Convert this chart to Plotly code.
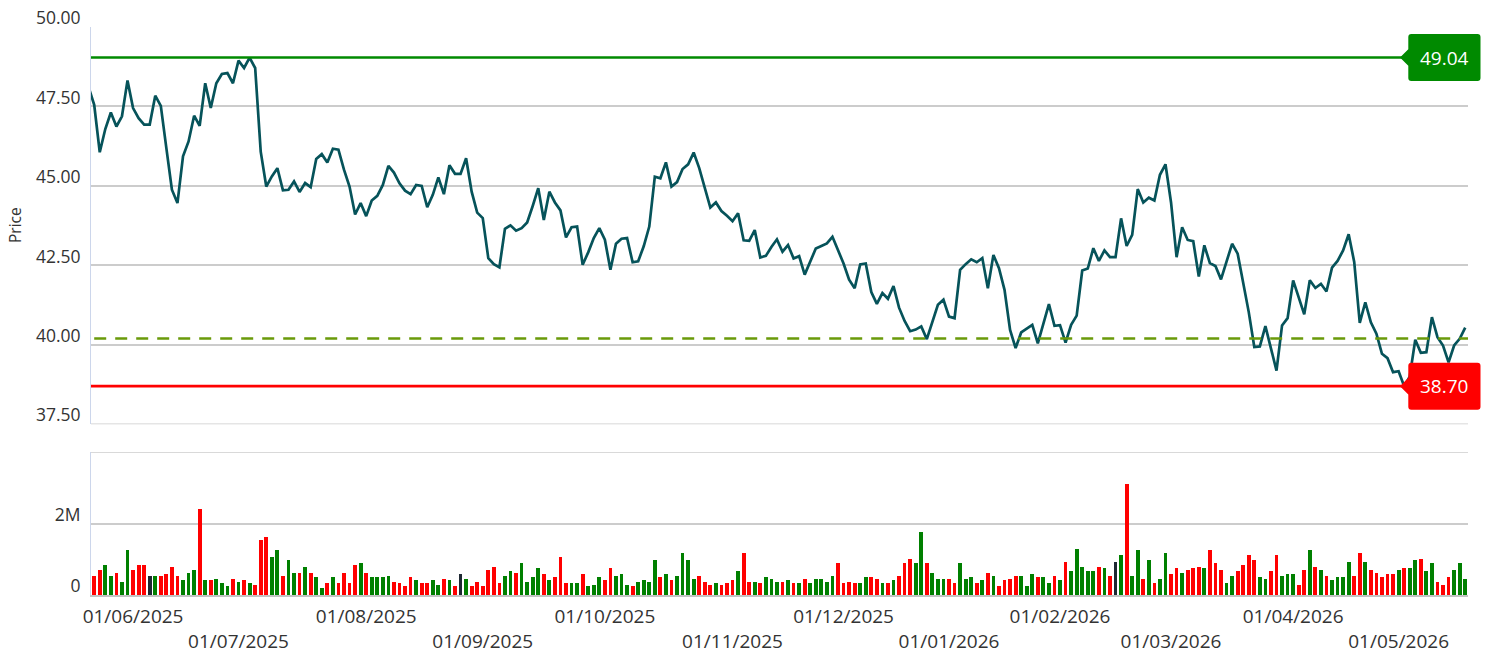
import plotly.graph_objects as go

# ---------------- data ----------------
# daily closes; index 0 is the session just before the visible window
close = [
    48.10, 47.55, 46.06, 46.79, 47.31, 46.87, 47.19, 48.32, 47.45, 47.13,
    46.93, 46.93, 47.84, 47.52, 46.19, 44.88, 44.46, 45.93, 46.40, 47.21,
    46.89, 48.23, 47.45, 48.23, 48.52, 48.55, 48.23, 48.94, 48.71, 49.04,
    48.71, 46.08, 44.98, 45.30, 45.56, 44.86, 44.88, 45.14, 44.81, 45.09,
    44.96, 45.85, 46.00, 45.74, 46.17, 46.14, 45.51, 44.98, 44.10, 44.46,
    44.05, 44.54, 44.69, 45.03, 45.63, 45.42, 45.08, 44.85, 44.74, 45.03,
    45.00, 44.33, 44.72, 45.27, 44.74, 45.65, 45.38, 45.38, 45.87, 44.82,
    44.16, 43.99, 42.73, 42.54, 42.44, 43.65, 43.76, 43.59, 43.67, 43.85,
    44.37, 44.93, 43.93, 44.82, 44.48, 44.23, 43.38, 43.70, 43.72, 42.52,
    42.91, 43.36, 43.67, 43.31, 42.36, 43.18, 43.34, 43.36, 42.60, 42.63,
    43.10, 43.72, 45.29, 45.24, 45.74, 44.98, 45.12, 45.53, 45.68, 46.05,
    45.56, 44.98, 44.32, 44.48, 44.21, 44.06, 43.89, 44.14, 43.29, 43.27,
    43.61, 42.75, 42.80, 43.08, 43.32, 42.93, 43.14, 42.72, 42.79, 42.21,
    42.61, 43.03, 43.11, 43.19, 43.40, 42.96, 42.56, 42.05, 41.78, 42.53,
    42.56, 41.66, 41.29, 41.63, 41.45, 41.85, 41.17, 40.75, 40.43, 40.48,
    40.58, 40.18, 40.73, 41.26, 41.42, 40.89, 40.84, 42.36, 42.54, 42.69,
    42.60, 42.73, 41.78, 42.83, 42.41, 41.73, 40.47, 39.90, 40.39, 40.50,
    40.63, 40.05, 40.68, 41.28, 40.60, 40.62, 40.07, 40.63, 40.92, 42.34,
    42.40, 43.04, 42.64, 42.97, 42.76, 42.76, 43.98, 43.11, 43.46, 44.90,
    44.48, 44.63, 44.54, 45.35, 45.68, 44.48, 42.76, 43.70, 43.30, 43.26,
    42.15, 43.13, 42.57, 42.48, 42.06, 42.61, 43.18, 42.87, 41.97, 41.03,
    39.93, 39.95, 40.59, 39.89, 39.19, 40.61, 40.84, 42.03, 41.52, 40.96,
    42.03, 41.79, 41.92, 41.68, 42.43, 42.64, 42.97, 43.48, 42.61, 40.69,
    41.34, 40.71, 40.35, 39.72, 39.58, 39.14, 39.17, 38.70, 39.00, 40.16,
    39.75, 39.77, 40.87, 40.24, 39.98, 39.45, 39.98, 40.19, 40.54,
]

# daily volume in millions of shares (sessions 1..248)
volume_m = [
    0.51, 0.70, 0.84, 0.51, 0.62, 0.36, 1.24, 0.70, 0.84, 0.84,
    0.51, 0.53, 0.51, 0.59, 0.79, 0.53, 0.42, 0.62, 0.70, 2.41,
    0.42, 0.42, 0.45, 0.33, 0.25, 0.45, 0.36, 0.42, 0.33, 0.27,
    1.52, 1.61, 1.07, 1.24, 0.53, 0.98, 0.62, 0.62, 0.79, 0.62,
    0.50, 0.19, 0.33, 0.50, 0.33, 0.62, 0.33, 0.84, 0.90, 0.62,
    0.50, 0.50, 0.50, 0.53, 0.36, 0.33, 0.25, 0.50, 0.42, 0.33,
    0.33, 0.42, 0.27, 0.45, 0.42, 0.25, 0.59, 0.45, 0.25, 0.36,
    0.25, 0.70, 0.79, 0.33, 0.53, 0.67, 0.62, 0.90, 0.36, 0.50,
    0.76, 0.59, 0.42, 0.50, 1.07, 0.33, 0.33, 0.33, 0.59, 0.25,
    0.27, 0.50, 0.42, 0.76, 0.53, 0.59, 0.27, 0.25, 0.36, 0.42,
    0.36, 0.98, 0.50, 0.59, 0.42, 0.53, 1.16, 0.98, 0.45, 0.53,
    0.36, 0.27, 0.33, 0.27, 0.33, 0.42, 0.67, 1.16, 0.36, 0.36,
    0.33, 0.50, 0.45, 0.36, 0.36, 0.42, 0.33, 0.33, 0.45, 0.33,
    0.45, 0.45, 0.36, 0.53, 0.90, 0.33, 0.36, 0.33, 0.33, 0.50,
    0.50, 0.45, 0.33, 0.33, 0.42, 0.53, 0.90, 1.01, 0.90, 1.75,
    0.90, 0.62, 0.45, 0.45, 0.45, 0.33, 0.90, 0.45, 0.50, 0.33,
    0.42, 0.62, 0.53, 0.25, 0.42, 0.45, 0.53, 0.53, 0.25, 0.59,
    0.50, 0.50, 0.33, 0.53, 0.42, 0.93, 0.67, 1.27, 0.79, 0.67,
    0.67, 0.79, 0.76, 0.53, 0.93, 1.10, 3.09, 0.53, 1.24, 0.45,
    0.98, 0.33, 0.45, 1.18, 0.59, 0.76, 0.62, 0.70, 0.76, 0.79,
    0.76, 1.24, 0.90, 0.70, 0.33, 0.53, 0.67, 0.84, 1.10, 0.98,
    0.50, 0.45, 0.67, 1.10, 0.53, 0.59, 0.59, 0.27, 0.70, 1.24,
    0.79, 0.70, 0.53, 0.42, 0.50, 0.50, 0.93, 0.53, 1.16, 0.93,
    0.70, 0.62, 0.50, 0.59, 0.59, 0.70, 0.76, 0.76, 0.98, 1.01,
    0.67, 0.90, 0.36, 0.27, 0.50, 0.70, 0.90, 0.45,
]

# session direction for the volume bars: g = up, r = down, k = unchanged
direction = (
    "rrggrggrrr" "kgrrrrgggr" "grgggrgrgr" "rrggrggrgr" "ggrgrrrrgr"
    "ggggrrrrgr" "rggrgrkgrr" "rrrrggrggg" "grgrrrggrg" "ggrrgggrgg"
    "ggrgrggggr" "rrgrrrgrrg" "rgggrgrgrg" "ggggrrrrgg" "rrgrgrrrgg"
    "rgggrrgggr" "grgrrrrggg" "rggrgrgggg" "grgrkgrggr" "grggrrgrrr"
    "grrrggrrrr" "ggrrgggrrg" "rgrggggrrg" "rrrrrgrggr" "ggrrrggg"
)

# month starts (trading-session index) and their labels
month_idx = [8, 27, 50, 71, 93, 116, 136, 155, 175, 195, 217, 236]
month_lbl = ["01/06/2025", "01/07/2025", "01/08/2025", "01/09/2025",
             "01/10/2025", "01/11/2025", "01/12/2025", "01/01/2026",
             "01/02/2026", "01/03/2026", "01/04/2026", "01/05/2026"]

period_high = 49.04
period_low = 38.70
reference_level = 40.20

price_ticks = [37.5, 40.0, 42.5, 45.0, 47.5, 50.0]
vol_ticks = [0, 2, 4]
vol_tick_text = ["0", "2M", ""]

# ---------------- styling ----------------
W, H = 1487, 652
ML, MR, MT, MB = 91, 19, 27, 57
PW, PH = W - ML - MR, H - MT - MB
price_dom = [0.3005, 1.0]
vol_dom = [0.0, 0.2512]
FONT = "Open Sans"
GRID = "#cccccc"
LINE_COL = "#06535a"
GREEN = "#008a00"
RED = "#ff0000"
colmap = {"g": "#008000", "r": "#ff0000", "k": "#1f2933"}

x_price = list(range(len(close)))
x_vol = list(range(1, len(volume_m) + 1))
bar_colors = [colmap[c] for c in direction]

fig = go.Figure()
fig.add_trace(go.Scatter(
    x=x_price, y=close, mode="lines",
    line=dict(color=LINE_COL, width=2.7),
    xaxis="x", yaxis="y", hoverinfo="skip", showlegend=False,
))
fig.add_trace(go.Bar(
    x=x_vol, y=volume_m, marker=dict(color=bar_colors, line=dict(width=0)),
    width=0.68, xaxis="x2", yaxis="y2", hoverinfo="skip", showlegend=False,
))

xr = [0.423, 248.5]
fig.update_layout(
    width=W, height=H,
    margin=dict(l=ML, r=MR, t=MT, b=MB, autoexpand=False),
    paper_bgcolor="white", plot_bgcolor="white",
    font=dict(family=FONT, color="#333333"),
    bargap=0,
    xaxis=dict(domain=[0, 1], anchor="y", range=xr, showticklabels=False,
               showgrid=False, zeroline=False, showline=False, ticks="",
               automargin=False),
    yaxis=dict(domain=price_dom, anchor="x", range=[37.5, 50.0],
               tickvals=price_ticks,
               ticktext=["%.2f" % v for v in price_ticks],
               showgrid=True, gridcolor=GRID, gridwidth=1.6,
               zeroline=False, showline=True, linecolor="#ccd6eb", linewidth=1,
               ticks="", ticklabelshift=-9, ticklabelstandoff=6,
               automargin=False,
               tickfont=dict(size=17.5, color="#333333")),
    xaxis2=dict(domain=[0, 1], anchor="y2", matches="x", range=xr,
                tickvals=month_idx,
                ticktext=[("" if k % 2 == 0 else "<br>") + t
                          for k, t in enumerate(month_lbl)],
                showgrid=False, zeroline=False, showline=True,
                linecolor="#c4c4c4", linewidth=2, ticks="",
                ticklabelstandoff=3, automargin=False,
                tickfont=dict(size=19, color="#333333")),
    yaxis2=dict(domain=vol_dom, anchor="x2", range=[0, 4.0],
                tickvals=vol_ticks, ticktext=vol_tick_text,
                showgrid=True, gridcolor=GRID, gridwidth=1.6,
                zeroline=False, showline=True, linecolor="#ccd6eb", linewidth=1,
                ticks="", ticklabelshift=-9, ticklabelstandoff=6,
                automargin=False,
                tickfont=dict(size=17.5, color="#333333")),
)

# panel edge grid lines (price floor and volume ceiling)
fig.add_shape(type="line", xref="paper", yref="y", x0=0, x1=1,
              y0=price_ticks[0], y1=price_ticks[0],
              line=dict(color=GRID, width=1.6), layer="below")
fig.add_shape(type="line", xref="paper", yref="y2", x0=0, x1=1,
              y0=vol_ticks[-1], y1=vol_ticks[-1],
              line=dict(color=GRID, width=1.6), layer="below")

# horizontal reference lines
fig.add_shape(type="line", xref="paper", yref="y", x0=0, x1=1,
              y0=period_high, y1=period_high, line=dict(color=GREEN, width=2.6))
fig.add_shape(type="line", xref="paper", yref="y", x0=0, x1=1,
              y0=period_low, y1=period_low, line=dict(color=RED, width=2.6))
fig.add_shape(type="line", xref="x", yref="y", x0=1, x1=xr[1],
              y0=reference_level, y1=reference_level,
              line=dict(color="#6a9a0a", width=2.6, dash="12px,9px"))


def py(price):
    d0, d1 = price_dom
    return d0 + (price - 37.5) / 12.5 * (d1 - d0)


def px2paper_x(p):
    return (p - ML) / PW


def label_path(price):
    yc = py(price)
    hh = 23.5 / PH
    r_x, r_y = 3 / PW, 3 / PH
    xl, xr_ = px2paper_x(1408.3), px2paper_x(1480.5)
    tip = px2paper_x(1400)
    ah = 8.3 / PH
    return (f"M {tip} {yc} L {xl} {yc + ah} L {xl} {yc + hh - r_y} "
            f"Q {xl} {yc + hh} {xl + r_x} {yc + hh} L {xr_ - r_x} {yc + hh} "
            f"Q {xr_} {yc + hh} {xr_} {yc + hh - r_y} L {xr_} {yc - hh + r_y} "
            f"Q {xr_} {yc - hh} {xr_ - r_x} {yc - hh} L {xl + r_x} {yc - hh} "
            f"Q {xl} {yc - hh} {xl} {yc - hh + r_y} L {xl} {yc - ah} Z")


for val, col in [(period_high, GREEN), (period_low, RED)]:
    fig.add_shape(type="path", xref="paper", yref="paper", path=label_path(val),
                  fillcolor=col, line=dict(width=0), layer="above")
    fig.add_annotation(xref="paper", yref="paper",
                       x=(px2paper_x(1408.3) + px2paper_x(1480.5)) / 2,
                       y=py(val), text="%.2f" % val, showarrow=False,
                       xanchor="center", yanchor="middle",
                       font=dict(family=FONT, size=19, color="white"))

fig.add_annotation(xref="paper", yref="paper", x=px2paper_x(15),
                   y=(H - MB - 225) / PH, text="Price", textangle=-90,
                   showarrow=False, xanchor="center", yanchor="middle",
                   font=dict(family=FONT, size=15.5, color="#333333"))

fig.write_html("out.html", config={"displayModeBar": False},
               post_script="document.body.style.margin='0';"
                           "document.body.style.overflow='hidden';")
